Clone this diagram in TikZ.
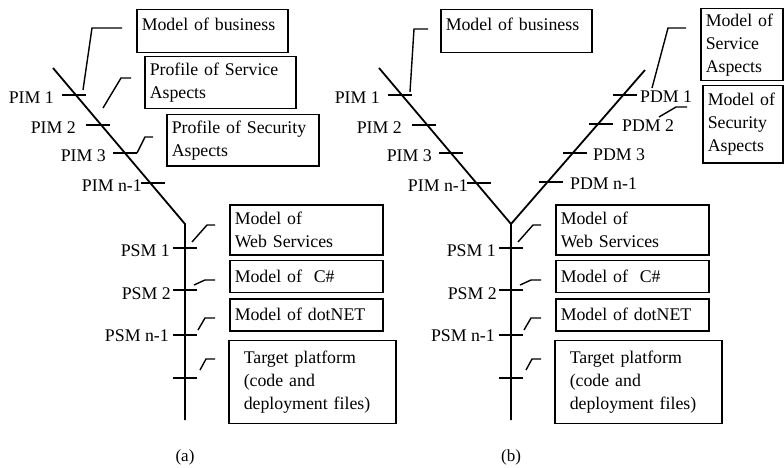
\documentclass[tikz,border=0pt]{standalone}
\usepackage{fontspec}
\setmainfont{Liberation Serif}
\usetikzlibrary{positioning}
\tikzset{
box/.style={
  draw, 
  rectangle, 
  line width=1.5pt,
  align=left,
  anchor=north west,
  inner xsep=5pt,
  inner ysep=4pt
  }, 
spine/.style={line width=1.8pt},
tick/.style={line width=1.5pt},
lead/.style={line width=1.4pt},
lbl/.style={inner sep=0pt}
}

\begin{document}
\begin{tikzpicture}[x=1pt,y=-1pt,font=\fontsize{17.8pt}{23pt}\selectfont]
\useasboundingbox (0,0) rectangle (784,468);

% the PIM/PSM branch, same in (a) and (b)
\foreach \s/\p in {0/a,326/b}{
\begin{scope}[shift={(\s,0)}]
\draw[spine] (53,68) coordinate (top\p) -- (185,224) coordinate (bend\p) -- (185,420) coordinate (foot\p);
\foreach \x/\y/\lx/\t [count=\i] in {74/95/54/PIM 1, 98/125/76/PIM 2, 125/153/106/PIM 3, 153/183/142/PIM n-1}{
  \draw[tick] (\x-12,\y) -- (\x+12,\y);
  \node[lbl, anchor=east] (pim\p\i) at (\lx,\y+3) {\t};
}
\foreach \y in {248,290,335,378}
  \draw[tick] (173,\y) -- (197,\y);
\node[lbl, anchor=east] (psm\p1) at (170,251) {PSM 1};
\node[lbl, anchor=east] (psm\p2) at (171,294) {PSM 2};
\node[lbl, anchor=east] (psm\p3) at (169,336) {PSM n-1};
\node[box, text width=143pt, minimum height=50pt] (ws\p) at (229,204) {Model of\\Web Services};
\node[box, text width=143pt, minimum height=32pt, below right=4pt and 0pt of ws\p.south west] (cs\p) {Model of\ \ C\#};
\node[box, text width=143pt, minimum height=32pt, below right=5pt and 0pt of cs\p.south west] (dn\p) {Model of dotNET};
\node[box, text width=137pt, inner xsep=15pt, minimum height=83pt, below right=8pt and -1pt of dn\p.south west] (tp\p) {Target platform\\(code and\\deployment files)};
\foreach \ax/\ay/\bx/\by [count=\i] in {192/242/207/225, 194/285/205/280, 198/330/205/318, 200/370/206/359}
  \draw[lead] (\ax,\ay) coordinate (w\p\i) -- (\bx,\by) -- (215,\by) coordinate (e\p\i);
\node[font=\fontsize{17pt}{20pt}\selectfont] (cap\p) at (185,457) {(\p)};
\end{scope}
}

% (a)
\node[box, text width=141pt, minimum height=43pt, text depth=14pt] (busa) at (136,9) {Model of business};
\node[box, text width=141pt, minimum height=52pt] (sva) at (144,56) {Profile of Service\\Aspects};
\node[box, text width=142pt, minimum height=51pt] (sca) at (166,114) {Profile of Security\\Aspects};
\draw[lead] (83,90) coordinate (a1) -- (92,28) -- (122,28) coordinate (a2);
\draw[lead] (103,108) coordinate (a3) -- (121,78) -- (131,78) coordinate (a4);
\draw[lead] (137,153) coordinate (a5) -- (145,137) -- (153,137) coordinate (a6);

% (b)
\node[box, text width=141pt, minimum height=43pt, text depth=14pt] (busb) at (440,9) {Model of business};
\node[box, text width=72pt, minimum height=72pt] (svb) at (700,8) {Model of\\Service\\Aspects};
\node[box, text width=70pt, minimum height=77pt] (scb) at (702,85) {Model of\\Security\\Aspects};
\draw[spine] (bendb) -- (645,70) coordinate (topr);
\foreach \x/\y/\lx/\t [count=\i] in {625/95/640/PDM 1, 601/124/622/PDM 2, 575/153/593/PDM 3, 551/182/570/PDM n-1}{
  \draw[tick] (\x-12,\y) -- (\x+12,\y);
  \node[lbl, anchor=west] (pdm\i) at (\lx,\y+2) {\t};
}
\draw[lead] (410,92) coordinate (b1) -- (414,29) -- (428,29) coordinate (b2);
\draw[lead] (652,88) coordinate (b3) -- (668,28) -- (686,28) coordinate (b4);
\draw[lead] (659,117) coordinate (b5) -- (676,107) -- (687,107) coordinate (b6);
\end{tikzpicture}
\end{document}
